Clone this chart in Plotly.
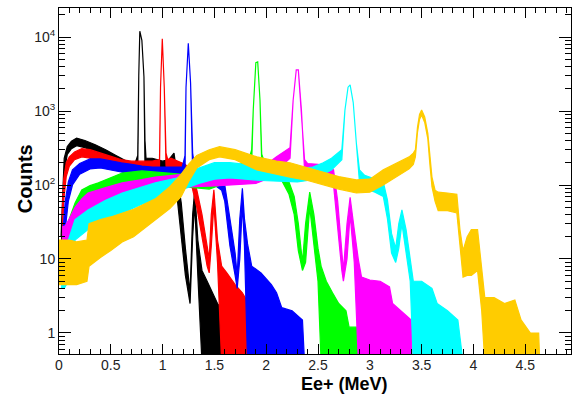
import plotly.graph_objects as go

# ---------------- data ----------------
# Each spectrum: energies (MeV) and the lower / upper envelope of the noisy histogram (counts)
E_black = [0.02, 0.035, 0.05, 0.08, 0.12, 0.17, 0.25, 0.35, 0.45, 0.55, 0.65, 0.73, 0.76, 0.77, 0.78, 0.80, 0.82, 0.83, 0.84, 0.9,
           1.0, 1.06, 1.11, 1.15, 1.18, 1.22, 1.265, 1.29, 1.31, 1.34, 1.38, 1.43, 1.48, 1.53, 1.58, 1.61]
hi_black = [20, 100, 230, 330, 390, 430, 400, 350, 300, 250, 210, 190, 250, 3000, 12000, 9000, 2900, 400, 230, 230,
            210, 220, 270, 110, 57, 14, 3.5, 40, 86, 18, 7, 5, 3.5, 2.5, 2, 0.4]
lo_black = [8, 40, 150, 260, 310, 340, 320, 280, 240, 200, 165, 145, 150, 3000, 12000, 9000, 2900, 180, 150, 155,
            150, 155, 170, 45, 20, 6, 2.5, 20, 55, 6, 0.4, 0.4, 0.4, 0.4, 0.4, 0.4]

E_red = [0.03, 0.045, 0.07, 0.1, 0.15, 0.22, 0.3, 0.4, 0.5, 0.6, 0.7, 0.8, 0.9, 0.97, 0.98, 0.997, 1.016, 1.033, 1.05, 1.08,
         1.15, 1.22, 1.28, 1.33, 1.38, 1.43, 1.45, 1.47, 1.495, 1.53, 1.57, 1.62, 1.7, 1.77, 1.83, 1.89, 1.91]
hi_red = [40, 120, 200, 240, 280, 310, 300, 270, 240, 220, 210, 210, 210, 220, 2100, 9500, 2100, 270, 220, 230,
          210, 190, 150, 86, 40, 14, 10, 40, 86, 18, 8, 6.5, 4.5, 3.5, 2.5, 2, 0.4]
lo_red = [15, 60, 130, 180, 220, 240, 230, 205, 185, 170, 160, 160, 160, 165, 2100, 9500, 2100, 180, 165, 175,
          160, 130, 100, 50, 20, 8, 6.5, 15, 55, 9, 0.4, 0.4, 0.4, 0.4, 0.4, 0.4, 0.4]

E_blue = [0.04, 0.06, 0.09, 0.13, 0.2, 0.3, 0.4, 0.5, 0.6, 0.7, 0.8, 0.9, 1.0, 1.1, 1.19, 1.216, 1.226, 1.248, 1.27, 1.29,
          1.31, 1.4, 1.5, 1.57, 1.6, 1.65, 1.7, 1.72, 1.745, 1.77, 1.79, 1.82, 1.86, 1.95, 2.05, 2.1, 2.15, 2.25, 2.35, 2.37]
hi_blue = [25, 60, 110, 160, 195, 225, 225, 210, 200, 190, 180, 175, 175, 175, 175, 250, 2100, 8200, 2400, 270,
           170, 150, 140, 120, 100, 35, 12, 6, 35, 90, 35, 16, 8, 6.5, 4.5, 3.5, 2.2, 2, 1.5, 0.4]
lo_blue = [10, 25, 60, 100, 140, 165, 170, 160, 150, 140, 135, 130, 130, 130, 130, 140, 2100, 8200, 2400, 150,
           125, 110, 100, 85, 60, 15, 6, 4, 10, 55, 15, 0.4, 0.4, 0.4, 0.4, 0.4, 0.4, 0.4, 0.4, 0.4]

E_green = [0.03, 0.06, 0.1, 0.155, 0.22, 0.3, 0.38, 0.5, 0.61, 0.8, 0.93, 1.1, 1.3, 1.45, 1.6, 1.75, 1.84, 1.86, 1.875, 1.9,
           1.918, 1.94, 1.957, 1.98, 2.05, 2.15, 2.22, 2.27, 2.31, 2.35, 2.38, 2.42, 2.46, 2.5, 2.53, 2.58, 2.64, 2.7, 2.77, 2.8,
           2.92, 2.93]
hi_green = [22, 24, 35, 57, 86, 98, 107, 125, 145, 155, 150, 145, 135, 130, 150, 190, 240, 300, 1030, 4500,
            4600, 1400, 260, 210, 190, 160, 110, 70, 30, 9, 30, 80, 40, 14, 8, 5, 3.5, 2.5, 2, 1.2,
            1.2, 0.4]
lo_green = [15, 15, 20, 34, 50, 60, 69, 80, 94, 105, 100, 98, 92, 88, 105, 135, 170, 200, 1030, 4500,
            4600, 1400, 190, 160, 140, 115, 75, 40, 13, 7, 9, 50, 17, 5, 0.4, 0.4, 0.4, 0.4, 0.4, 0.4,
            0.4, 0.4]

E_magenta = [0.03, 0.06, 0.1, 0.155, 0.22, 0.28, 0.45, 0.61, 0.8, 0.93, 1.1, 1.3, 1.5, 1.7, 1.9, 2.0, 2.1, 2.2, 2.23, 2.26,
             2.29, 2.31, 2.34, 2.37, 2.4, 2.5, 2.6, 2.65, 2.69, 2.73, 2.745, 2.78, 2.81, 2.85, 2.89, 2.92, 3.0, 3.1, 3.19, 3.22,
             3.3, 3.4, 3.41]
hi_magenta = [27, 28, 35, 50, 65, 78, 92, 107, 118, 128, 135, 145, 150, 155, 165, 190, 240, 300, 320, 1400,
              3600, 3600, 1030, 220, 195, 190, 180, 160, 60, 12, 7, 30, 68, 25, 9.7, 5.7, 5.2, 5, 4.2, 2.5,
              2, 1.5, 0.4]
lo_magenta = [16, 17, 20, 25, 35, 42, 55, 63, 75, 86, 90, 95, 97, 100, 105, 120, 160, 210, 230, 1400,
              3600, 3600, 1030, 160, 145, 140, 135, 100, 25, 7, 5, 10, 40, 9, 0.4, 0.4, 0.4, 0.4, 0.4, 0.4,
              0.4, 0.4, 0.4]

E_cyan = [0.02, 0.05, 0.09, 0.155, 0.28, 0.45, 0.61, 0.8, 0.93, 1.18, 1.35, 1.5, 1.65, 1.8, 1.95, 2.1, 2.3, 2.45, 2.55, 2.63,
          2.7, 2.73, 2.76, 2.79, 2.81, 2.84, 2.87, 2.9, 2.95, 3.05, 3.13, 3.17, 3.21, 3.25, 3.28, 3.31, 3.35, 3.39, 3.42, 3.5,
          3.6, 3.65, 3.75, 3.85, 3.9]
hi_cyan = [16, 16, 18, 34, 46, 62, 78, 95, 107, 128, 170, 200, 200, 190, 175, 170, 165, 175, 200, 230,
           280, 300, 1030, 2100, 2250, 1300, 370, 160, 135, 120, 110, 63, 22, 14, 30, 46, 25, 10, 5, 5,
           4, 2.5, 2, 1.5, 0.4]
lo_cyan = [4, 4, 5, 18, 25, 33, 42, 55, 63, 86, 105, 120, 125, 120, 115, 112, 110, 118, 140, 160,
           200, 220, 1030, 2100, 2250, 1300, 370, 110, 90, 80, 70, 35, 12, 9, 14, 30, 12, 5, 0.4, 0.4,
           0.4, 0.4, 0.4, 0.4, 0.4]

E_orange = [0.0, 0.1, 0.17, 0.27, 0.29, 0.4, 0.5, 0.61, 0.72, 0.93, 1.07, 1.18, 1.25, 1.33, 1.45, 1.55, 1.7, 1.91, 2.1, 2.23,
            2.4, 2.55, 2.7, 2.87, 3.0, 3.13, 3.22, 3.3, 3.38, 3.42, 3.44, 3.46, 3.48, 3.5, 3.53, 3.56, 3.58, 3.6, 3.63, 3.66,
            3.75, 3.84, 3.87, 3.9, 3.94, 3.98, 4.04, 4.08, 4.11, 4.2, 4.3, 4.4, 4.46, 4.55, 4.63, 4.64]
hi_orange = [18, 18, 17, 18, 30, 34, 37, 42, 47, 65, 95, 140, 190, 250, 300, 330, 300, 240, 210, 200,
             170, 150, 130, 117, 120, 160, 185, 210, 240, 270, 300, 600, 900, 1030, 830, 500, 240, 128, 85, 80,
             78, 75, 25, 13, 20, 25, 25, 8, 3, 3, 2.5, 2.8, 1.5, 1, 1, 0.4]
lo_orange = [4.5, 4.5, 4.5, 5, 8, 10.5, 13, 17, 20, 34, 48, 70, 110, 170, 220, 240, 220, 160, 140, 128,
             115, 100, 88, 78, 80, 100, 120, 140, 165, 190, 240, 510, 770, 880, 700, 420, 190, 95, 60, 45,
             45, 42, 15, 5.7, 6, 6, 7, 2, 0.4, 0.4, 0.4, 0.4, 0.4, 0.4, 0.4, 0.4]

x_tick_vals = [0, 0.5, 1, 1.5, 2, 2.5, 3, 3.5, 4, 4.5]
x_tick_text = ["0", "0.5", "1", "1.5", "2", "2.5", "3", "3.5", "4", "4.5"]
y_tick_vals = [1, 10, 100, 1000, 10000]
y_tick_text = ["1", "10", "10<sup>2</sup>", "10<sup>3</sup>", "10<sup>4</sup>"]
y_minor_vals = [m * 10.0 ** k for k in range(-1, 5) for m in range(2, 10)]

series = [
    ("#000000", E_black, lo_black, hi_black),
    ("#ff0000", E_red, lo_red, hi_red),
    ("#0000ff", E_blue, lo_blue, hi_blue),
    ("#00ff00", E_green, lo_green, hi_green),
    ("#ff00ff", E_magenta, lo_magenta, hi_magenta),
    ("#00ffff", E_cyan, lo_cyan, hi_cyan),
    ("#ffcc00", E_orange, lo_orange, hi_orange),
]

fig = go.Figure()
for col, E, lo, hi in series:
    fig.add_trace(go.Scatter(
        x=E + E[::-1], y=hi + lo[::-1],
        mode="lines", fill="toself", fillcolor=col,
        line=dict(color=col, width=1.2),
        hoverinfo="skip", showlegend=False))

tick_font = dict(family="Liberation Sans, Arial, sans-serif", size=14, color="#222")

fig.update_layout(
    width=572, height=395,
    margin=dict(l=59, r=1, t=8, b=41),
    paper_bgcolor="white", plot_bgcolor="white",
    showlegend=False,
    xaxis=dict(
        range=[0, 4.942], tickmode="array", tickvals=x_tick_vals, ticktext=x_tick_text,
        ticks="inside", ticklen=10, tickwidth=1, tickcolor="black",
        showline=True, linecolor="black", linewidth=1, mirror="allticks",
        showgrid=False, zeroline=False, tickfont=tick_font, ticklabelstandoff=-2,
        minor=dict(tickmode="linear", tick0=0, dtick=0.1, ticks="inside", ticklen=5,
                   tickwidth=1, tickcolor="black", showgrid=False),
    ),
    yaxis=dict(
        type="log", range=[-0.284, 4.392], tickmode="array",
        tickvals=y_tick_vals, ticktext=y_tick_text,
        ticks="inside", ticklen=12, tickwidth=1, tickcolor="black",
        showline=True, linecolor="black", linewidth=1, mirror="allticks",
        showgrid=False, zeroline=False, tickfont=tick_font,
        minor=dict(tickmode="array", tickvals=y_minor_vals, ticks="inside", ticklen=6,
                   tickwidth=1, tickcolor="black", showgrid=False),
    ),
    annotations=[
        dict(text="<b>Counts</b>", xref="paper", yref="paper", x=-0.066, y=0.506,
             textangle=-90, showarrow=False, xanchor="center", yanchor="middle",
             font=dict(family="Liberation Sans, Arial, sans-serif", size=20, color="black")),
        dict(text="<b>Ee+ (MeV)</b>", xref="paper", yref="paper", x=0.557, y=-0.088,
             showarrow=False, xanchor="center", yanchor="middle",
             font=dict(family="Liberation Sans, Arial, sans-serif", size=18, color="black")),
    ],
)

fig.write_html("out.html")
